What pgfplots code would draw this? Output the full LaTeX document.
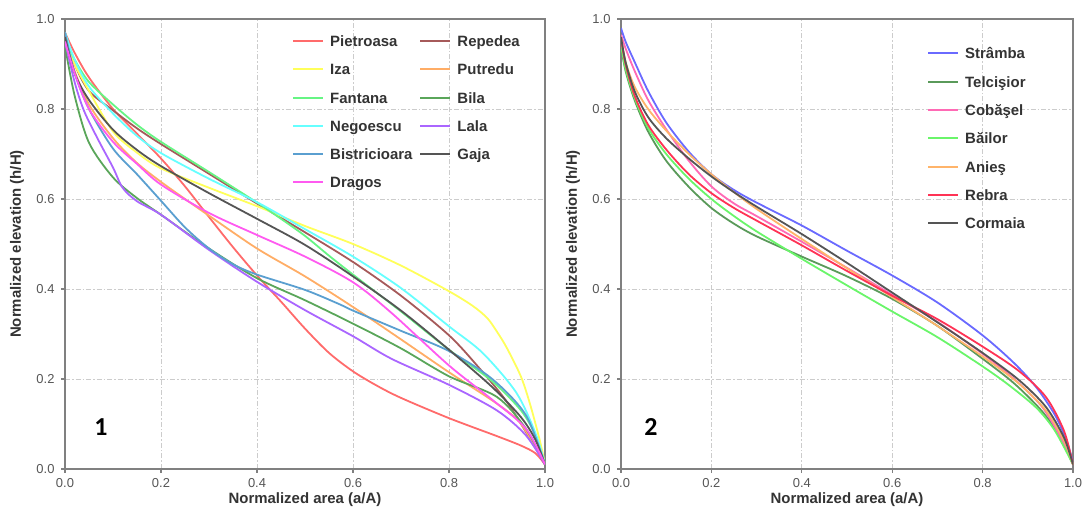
\documentclass[border=0pt]{standalone}
\usepackage{fontspec}
\setmainfont{Liberation Sans}
\newfontfamily\carlito{Carlito}
\usepackage{pgfplots}
\pgfplotsset{compat=1.18}

% panel 1 colours
\definecolor{cPie}{HTML}{FF6B6B}
\definecolor{cIza}{HTML}{FFFF5A}
\definecolor{cFan}{HTML}{66F584}
\definecolor{cNeg}{HTML}{66FFFF}
\definecolor{cBis}{HTML}{5A9FD0}
\definecolor{cDra}{HTML}{FF5AF0}
\definecolor{cRep}{HTML}{A65A5A}
\definecolor{cPut}{HTML}{FFAD66}
\definecolor{cBil}{HTML}{5AA65A}
\definecolor{cLal}{HTML}{AA66FF}
\definecolor{cGaj}{HTML}{555555}
% panel 2 colours
\definecolor{cStr}{HTML}{6A6AFF}
\definecolor{cTel}{HTML}{5A9A5A}
\definecolor{cCob}{HTML}{FF6AB5}
\definecolor{cBai}{HTML}{6AF56A}
\definecolor{cAni}{HTML}{FFB46A}
\definecolor{cReb}{HTML}{FF3355}
\definecolor{cCor}{HTML}{555555}

\definecolor{axisgray}{HTML}{808080}
\definecolor{tickgray}{HTML}{555555}
\definecolor{labgray}{HTML}{333333}

\pgfplotsset{
  hypso/.style={
    scale only axis, height=450bp,
    xmin=0, xmax=1, ymin=0, ymax=1,
    xtick={0,0.2,0.4,0.6,0.8,1}, ytick={0,0.2,0.4,0.6,0.8,1},
    tick pos=left, tick align=outside, major tick length=4bp,
    tick style={draw=axisgray, line width=1.2bp},
    axis line style={draw=axisgray, line width=2.5bp},
    grid=major,
    grid style={draw=gray!40, line width=0.8bp, dash pattern=on 5bp off 2bp on 1.5bp off 2bp},
    ticklabel style={font=\fontsize{13}{15}\selectfont, text=tickgray},
    /pgf/number format/fixed, /pgf/number format/fixed zerofill,
    /pgf/number format/precision=1, /pgf/number format/assume math mode=true,
    yticklabel style={xshift=-3bp},
    xticklabel style={yshift=-2bp},
    xlabel={Normalized area (a/A)}, ylabel={Normalized elevation (h/H)},
    label style={font=\bfseries\fontsize{15}{17}\selectfont, text=labgray},
    x label style={at={(axis description cs:0.5,0)}, anchor=center, yshift=-31bp},
    legend cell align=left,
    legend image code/.code={\draw[#1, line width=2bp] (0bp,2bp) -- (30bp,2bp);},
    legend style={draw=none, fill=none, inner sep=0pt, anchor=north west,
      font=\bfseries\fontsize{15}{17}\selectfont, text=labgray,
      nodes={inner sep=0pt, text height=10bp, text depth=3bp},
      /tikz/every odd column/.append style={column sep=6bp},
      /tikz/every even column/.append style={column sep=7bp}},
    every axis plot/.append style={line width=1.8bp, smooth, no markers},
  }
}

\begin{document}
\begin{tikzpicture}
\path[use as bounding box] (0,0) rectangle (1085bp,514bp);

\begin{axis}[hypso, width=480bp, at={(65bp,45bp)}, anchor=south west,
  y label style={at={(axis description cs:-0.1,0.5)}, anchor=center},
  legend columns=2,
  legend style={at={(axis description cs:0.473,0.961)}, row sep=15.2bp}]
\addplot[cPie] coordinates {(0,0.97)(0.02,0.925)(0.05,0.87)(0.1,0.8)(0.15,0.745)(0.2,0.69)(0.25,0.628)(0.3,0.56)(0.35,0.493)(0.4,0.43)(0.45,0.372)(0.5,0.312)(0.55,0.258)(0.6,0.217)(0.65,0.185)(0.7,0.158)(0.8,0.113)(0.9,0.073)(0.95,0.052)(0.98,0.035)(1,0.01)};
\addlegendentry{Pietroasa}
\addplot[cRep] coordinates {(0,0.97)(0.02,0.9)(0.05,0.84)(0.1,0.797)(0.15,0.757)(0.2,0.722)(0.3,0.656)(0.4,0.59)(0.5,0.526)(0.6,0.46)(0.7,0.385)(0.8,0.297)(0.86,0.228)(0.92,0.15)(0.97,0.065)(1,0.01)};
\addlegendentry{Repedea}
\addplot[cIza] coordinates {(0,0.96)(0.02,0.9)(0.05,0.84)(0.1,0.75)(0.15,0.703)(0.2,0.668)(0.3,0.625)(0.4,0.584)(0.5,0.54)(0.6,0.5)(0.7,0.452)(0.8,0.395)(0.85,0.362)(0.88,0.335)(0.9,0.305)(0.92,0.27)(0.95,0.205)(0.97,0.14)(0.99,0.06)(1,0.01)};
\addlegendentry{Iza}
\addplot[cPut] coordinates {(0,0.96)(0.02,0.885)(0.05,0.81)(0.1,0.735)(0.15,0.68)(0.2,0.638)(0.25,0.6)(0.3,0.563)(0.4,0.49)(0.5,0.428)(0.6,0.36)(0.7,0.288)(0.8,0.215)(0.9,0.145)(0.95,0.1)(1,0.01)};
\addlegendentry{Putredu}
\addplot[cFan] coordinates {(0,0.96)(0.02,0.91)(0.05,0.86)(0.1,0.81)(0.15,0.765)(0.2,0.727)(0.3,0.66)(0.4,0.592)(0.45,0.556)(0.5,0.518)(0.55,0.474)(0.6,0.432)(0.7,0.35)(0.8,0.265)(0.89,0.195)(0.95,0.13)(0.98,0.075)(1,0.01)};
\addlegendentry{Fantana}
\addplot[cBil] coordinates {(0,0.94)(0.02,0.83)(0.05,0.725)(0.1,0.648)(0.15,0.602)(0.2,0.565)(0.3,0.49)(0.4,0.424)(0.5,0.375)(0.6,0.323)(0.7,0.268)(0.8,0.206)(0.9,0.16)(0.96,0.09)(1,0.01)};
\addlegendentry{Bila}
\addplot[cNeg] coordinates {(0,0.97)(0.02,0.91)(0.05,0.85)(0.1,0.79)(0.15,0.74)(0.2,0.702)(0.3,0.645)(0.4,0.593)(0.5,0.533)(0.6,0.472)(0.7,0.402)(0.8,0.317)(0.87,0.258)(0.94,0.17)(0.98,0.08)(1,0.01)};
\addlegendentry{Negoescu}
\addplot[cLal] coordinates {(0,0.95)(0.02,0.86)(0.04,0.795)(0.07,0.73)(0.1,0.67)(0.12,0.625)(0.15,0.595)(0.2,0.565)(0.3,0.487)(0.4,0.416)(0.5,0.353)(0.6,0.295)(0.68,0.245)(0.8,0.187)(0.9,0.13)(0.96,0.075)(1,0.01)};
\addlegendentry{Lala}
\addplot[cBis] coordinates {(0,0.97)(0.02,0.88)(0.05,0.8)(0.1,0.712)(0.15,0.655)(0.2,0.596)(0.25,0.537)(0.3,0.49)(0.35,0.455)(0.4,0.432)(0.5,0.398)(0.57,0.367)(0.6,0.352)(0.7,0.307)(0.8,0.262)(0.89,0.2)(0.96,0.12)(1,0.01)};
\addlegendentry{Bistricioara}
\addplot[cGaj] coordinates {(0,0.96)(0.02,0.88)(0.05,0.82)(0.1,0.754)(0.15,0.709)(0.2,0.673)(0.3,0.613)(0.4,0.556)(0.5,0.498)(0.6,0.428)(0.7,0.352)(0.8,0.265)(0.89,0.182)(0.95,0.115)(0.98,0.065)(1,0.01)};
\addlegendentry{Gaja}
\addplot[cDra] coordinates {(0,0.95)(0.02,0.88)(0.05,0.8)(0.1,0.727)(0.15,0.678)(0.2,0.632)(0.3,0.569)(0.4,0.52)(0.5,0.472)(0.6,0.415)(0.68,0.347)(0.8,0.23)(0.89,0.154)(0.96,0.09)(1,0.01)};
\addlegendentry{Dragos}
\node[font=\carlito\bfseries\fontsize{26}{26}\selectfont] at (axis cs:0.075,0.093) {1};
\end{axis}

\begin{axis}[hypso, width=452bp, at={(621bp,45bp)}, anchor=south west,
  y label style={at={(axis description cs:-0.106,0.5)}, anchor=center},
  legend style={at={(axis description cs:0.677,0.934)}, row sep=15.3bp}]
\addplot[cStr] coordinates {(0,0.98)(0.01,0.95)(0.03,0.905)(0.06,0.84)(0.1,0.77)(0.15,0.705)(0.2,0.655)(0.25,0.62)(0.3,0.592)(0.4,0.541)(0.5,0.485)(0.6,0.43)(0.7,0.37)(0.8,0.297)(0.87,0.235)(0.92,0.18)(0.96,0.12)(0.985,0.065)(1,0.015)};
\addlegendentry{Strâmba}
\addplot[cTel] coordinates {(0,0.94)(0.01,0.885)(0.03,0.82)(0.06,0.75)(0.1,0.685)(0.15,0.627)(0.2,0.58)(0.25,0.545)(0.3,0.517)(0.4,0.472)(0.5,0.428)(0.6,0.378)(0.7,0.318)(0.8,0.245)(0.87,0.19)(0.93,0.13)(0.97,0.075)(1,0.01)};
\addlegendentry{Telcişior}
\addplot[cCob] coordinates {(0,0.965)(0.01,0.935)(0.03,0.885)(0.06,0.82)(0.1,0.755)(0.15,0.685)(0.2,0.628)(0.25,0.59)(0.3,0.562)(0.4,0.505)(0.5,0.447)(0.6,0.387)(0.7,0.327)(0.8,0.256)(0.87,0.2)(0.93,0.14)(0.97,0.075)(1,0.01)};
\addlegendentry{Cobăşel}
\addplot[cBai] coordinates {(0,0.943)(0.01,0.89)(0.03,0.825)(0.06,0.758)(0.1,0.7)(0.15,0.645)(0.2,0.6)(0.25,0.562)(0.3,0.528)(0.4,0.467)(0.5,0.408)(0.6,0.35)(0.7,0.293)(0.8,0.228)(0.86,0.185)(0.92,0.135)(0.96,0.085)(1,0.01)};
\addlegendentry{Băilor}
\addplot[cAni] coordinates {(0,0.96)(0.01,0.905)(0.03,0.85)(0.06,0.8)(0.1,0.752)(0.15,0.7)(0.2,0.655)(0.25,0.615)(0.3,0.578)(0.4,0.511)(0.5,0.446)(0.6,0.382)(0.7,0.318)(0.8,0.25)(0.88,0.19)(0.94,0.13)(0.98,0.063)(1,0.01)};
\addlegendentry{Anieş}
\addplot[cReb] coordinates {(0,0.958)(0.01,0.9)(0.03,0.83)(0.06,0.765)(0.1,0.71)(0.15,0.655)(0.2,0.613)(0.25,0.58)(0.3,0.552)(0.4,0.497)(0.5,0.44)(0.6,0.385)(0.7,0.333)(0.8,0.272)(0.88,0.218)(0.94,0.16)(0.98,0.085)(1,0.01)};
\addlegendentry{Rebra}
\addplot[cCor] coordinates {(0,0.96)(0.01,0.905)(0.03,0.84)(0.06,0.782)(0.1,0.735)(0.15,0.69)(0.2,0.65)(0.25,0.615)(0.3,0.583)(0.4,0.522)(0.5,0.458)(0.6,0.392)(0.7,0.326)(0.8,0.258)(0.88,0.198)(0.94,0.138)(0.98,0.07)(1,0.01)};
\addlegendentry{Cormaia}
\node[font=\carlito\bfseries\fontsize{26}{26}\selectfont] at (axis cs:0.066,0.093) {2};
\end{axis}
\end{tikzpicture}
\end{document}
